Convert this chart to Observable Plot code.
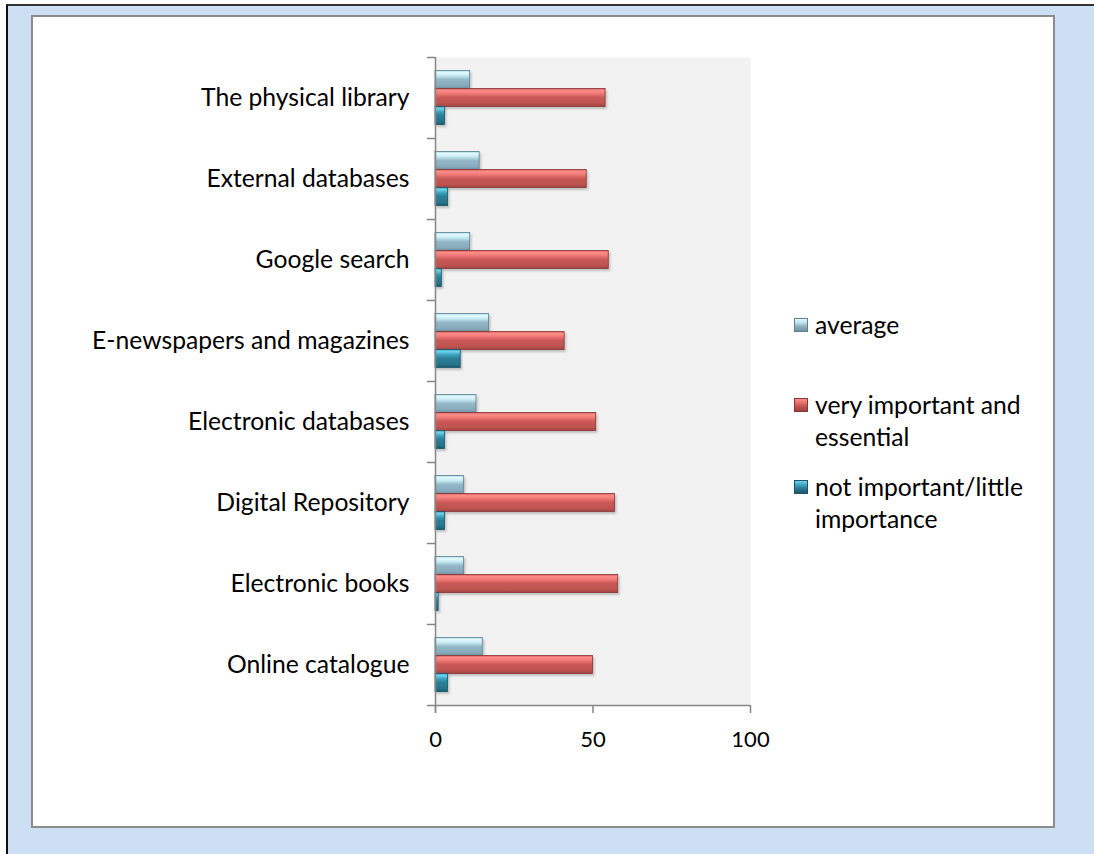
<!DOCTYPE html>
<html>
<head>
<meta charset="utf-8">
<script src="https://cdn.jsdelivr.net/npm/d3@7"></script>
<script src="https://cdn.jsdelivr.net/npm/@observablehq/plot@0.6"></script>
<style>
  html, body { margin: 0; padding: 0; background: #fff; width: 1094px; height: 854px; overflow: hidden; }
  #frame { position: absolute; left: 6px; top: 4px; width: 1090px; height: 852px; background: #cddff2;
           border-left: 2px solid #111; border-top: 2px solid #333; }
  #panel { position: absolute; left: 31px; top: 15px; width: 1024px; height: 813px; box-sizing: border-box;
           background: #fff; border: 2px solid #8c8c8c; }
  #chart { position: absolute; left: 0; top: 0; }
  .lg { position: absolute; font-family: Lato, "Open Sans", sans-serif; font-size: 24.7px; line-height: 32px; color: #000; }
  .sw { position: absolute; width: 14px; height: 14px; box-sizing: border-box; }
</style>
</head>
<body>
<div id="frame"></div>
<div id="panel"></div>
<div id="chart"></div>
<div id="legend"></div>
<script>
const categories = ["The physical library", "External databases", "Google search", "E-newspapers and magazines",
  "Electronic databases", "Digital Repository", "Electronic books", "Online catalogue"];
const seriesNames = ["average", "very important and essential", "not important/little importance"];
const average = [11, 14, 11, 17, 13, 9, 9, 15];
const veryImportant = [54, 48, 55, 41, 51, 57, 58, 50];
const notImportant = [3, 4, 2, 8, 3, 3, 1, 4];
const xTicks = [0, 50, 100];

const rows = [];
categories.forEach((c, i) => {
  rows.push({category: c, series: seriesNames[0], value: average[i]});
  rows.push({category: c, series: seriesNames[1], value: veryImportant[i]});
  rows.push({category: c, series: seriesNames[2], value: notImportant[i]});
});

const W = 1094, H = 854;
const mL = 435, mR = 344, mT = 57, mB = 149;
const bw = (H - mT - mB) / categories.length;
const barT = bw * 2 / 9, pad = bw / 6;
const axisColor = "#868686";

const fills = ["url(#gAvg)", "url(#gVery)", "url(#gNot)"];
const strokes = ["#5d7f8e", "#8a3533", "#1b5566"];

const barMarks = seriesNames.map((s, k) => Plot.barX(rows.filter(d => d.series === s), {
  x: "value", y: "category",
  insetTop: pad + k * barT, insetBottom: bw - pad - (k + 1) * barT,
  fill: fills[k], stroke: strokes[k], strokeWidth: 0.8
}));

const svg = Plot.plot({
  width: W, height: H,
  marginLeft: mL, marginRight: mR, marginTop: mT, marginBottom: mB,
  style: {background: "transparent", fontFamily: "Lato, 'Open Sans', sans-serif", fontSize: "24.7px", color: "#000"},
  x: {domain: [0, 100], label: null},
  y: {domain: categories, padding: 0, label: null},
  marks: [
    Plot.frame({fill: "#f2f2f2", stroke: null}),
    ...barMarks,
    Plot.ruleX([0], {stroke: axisColor, strokeWidth: 1.5, insetBottom: -8}),
    Plot.ruleY(categories, {y: d => d, dy: -bw / 2, x1: -2.6, x2: 0, stroke: axisColor, strokeWidth: 1.5}),
    Plot.ruleY([categories[categories.length - 1]], {y: d => d, dy: bw / 2, x1: -2.6, x2: 100, stroke: axisColor, strokeWidth: 1.5}),
    Plot.axisY({tickSize: 0, tickPadding: 26, fontSize: 24.7, fill: "#000"}),
    Plot.axisX({ticks: xTicks, tickSize: 8, tickPadding: 18, fontSize: 22, stroke: axisColor, strokeWidth: 1.5, fill: "#000", tickFormat: d => String(d)})
  ]
});

// gradients & shadow
const ns = "http://www.w3.org/2000/svg";
const defs = document.createElementNS(ns, "defs");
function grad(id, stops) {
  const g = document.createElementNS(ns, "linearGradient");
  g.setAttribute("id", id); g.setAttribute("x1", "0"); g.setAttribute("x2", "0"); g.setAttribute("y1", "0"); g.setAttribute("y2", "1");
  stops.forEach(([o, c]) => {
    const st = document.createElementNS(ns, "stop");
    st.setAttribute("offset", o); st.setAttribute("stop-color", c);
    g.appendChild(st);
  });
  defs.appendChild(g);
}
grad("gAvg", [["0", "#a9d7e4"], ["0.12", "#e4fbff"], ["0.3", "#c4e8f1"], ["0.5", "#93b8c8"], ["0.85", "#86aabb"], ["1", "#6c8f9e"]]);
grad("gVery", [["0", "#d55e5b"], ["0.12", "#ff8e8b"], ["0.3", "#ec7673"], ["0.5", "#c95956"], ["0.85", "#bc524f"], ["1", "#9d4341"]]);
grad("gNot", [["0", "#3ea9c4"], ["0.12", "#6fd2ea"], ["0.3", "#3a9fba"], ["0.5", "#2b7f97"], ["0.85", "#267388"], ["1", "#1b5869"]]);
const filt = document.createElementNS(ns, "filter");
filt.setAttribute("id", "shadow"); filt.setAttribute("x", "-5%"); filt.setAttribute("y", "-30%"); filt.setAttribute("width", "115%"); filt.setAttribute("height", "180%");
const ds = document.createElementNS(ns, "feDropShadow");
ds.setAttribute("dx", "1.5"); ds.setAttribute("dy", "2"); ds.setAttribute("stdDeviation", "1.2"); ds.setAttribute("flood-color", "#000"); ds.setAttribute("flood-opacity", "0.22");
filt.appendChild(ds); defs.appendChild(filt);
svg.insertBefore(defs, svg.firstChild);
svg.querySelectorAll('g[aria-label="bar"]').forEach(g => g.setAttribute("filter", "url(#shadow)"));
document.getElementById("chart").appendChild(svg);

// legend
const legend = document.getElementById("legend");
const swatchCss = [
  "linear-gradient(#e2fbff, #b8dde8 35%, #8fb3c3 60%, #6e92a2)",
  "linear-gradient(#ff8e8b, #e36d6a 35%, #c45552 60%, #9d4341)",
  "linear-gradient(#6fd2ea, #3aa2bd 35%, #2a7e96 60%, #1b5869)"
];
const legendLines = [["average"], ["very important and", "essential"], ["not important/little", "importance"]];
const legendTop = [309, 389, 471];
legendLines.forEach((lines, k) => {
  const sw = document.createElement("div");
  sw.className = "sw";
  sw.style.left = "794px"; sw.style.top = (legendTop[k] + 9) + "px";
  sw.style.background = swatchCss[k];
  sw.style.border = "1px solid " + strokes[k];
  legend.appendChild(sw);
  const t = document.createElement("div");
  t.className = "lg";
  t.style.left = "815px"; t.style.top = legendTop[k] + "px";
  t.innerHTML = lines.join("<br>");
  legend.appendChild(t);
});
</script>
</body>
</html>
